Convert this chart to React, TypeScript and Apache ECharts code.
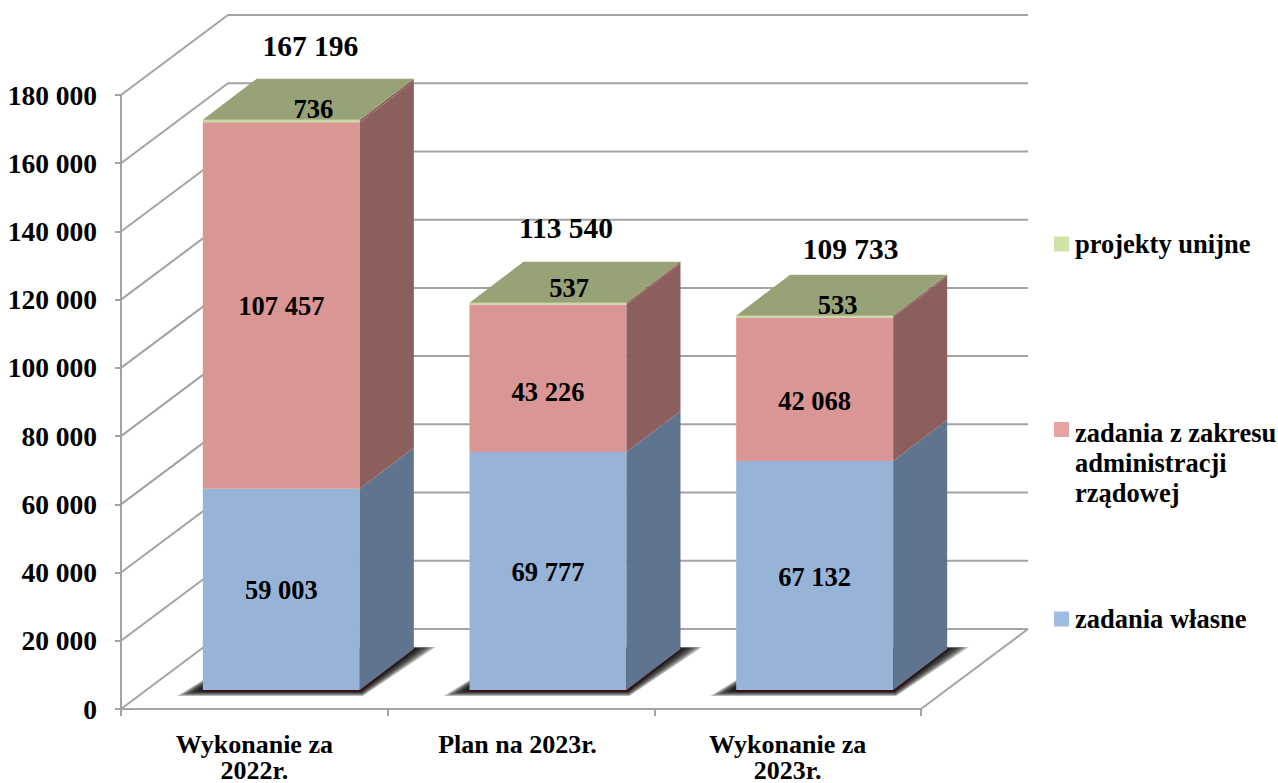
import React, { useEffect, useRef } from "react";
import * as echarts from "echarts";

const categories = ["Wykonanie za\n2022r.", "Plan na 2023r.", "Wykonanie za\n2023r."];
const zadaniaWlasne = [59003, 69777, 67132];
const zadaniaAdmin = [107457, 43226, 42068];
const projektyUnijne = [736, 537, 533];
const totals = [167196, 113540, 109733];
const axisTicks = [0, 20000, 40000, 60000, 80000, 100000, 120000, 140000, 160000, 180000];
const nameOwn = "zadania własne";
const nameAdmin = "zadania z zakresu administracji rządowej";
const nameEu = "projekty unijne";

// layout constants for the pseudo-3D projection
const WALL_DX = 107, WALL_DY = -80;
const BAR_W = 157, BAR_DX = 54, BAR_DY = -41, BASE_DX = 27, BASE_DY = -19;
const totalDx = [29, 18, 36];
const totalDy = [-74, -75, -67];
const euLabelDx = [32, 21, 23];
const euLabelDy = [-11, -15, -11];
const adminLabelDy = [1, 14, 12];
const FONT = "'Liberation Serif', 'Times New Roman', serif";
const fmt = (v: number) => String(v).replace(/\B(?=(\d{3})+$)/g, " ");

const poly = (points: number[][], fill: string, extra: any = {}) => ({
  type: "polygon",
  shape: { points },
  style: { fill, ...extra },
  silent: true,
});
const seg = (x1: number, y1: number, x2: number, y2: number, width = 2) => ({
  type: "line",
  shape: { x1, y1, x2, y2 },
  style: { stroke: "#a3a3a3", lineWidth: width },
  silent: true,
});
const label = (text: string, x: number, y: number, size: number) => ({
  type: "text",
  style: {
    text, x, y, align: "center", verticalAlign: "middle",
    fontFamily: FONT, fontWeight: "bold", fontSize: size, fill: "#000",
  },
  silent: true,
});

function stackRender(front: string, side: string, top?: string, midDy?: number[]) {
  return (params: any, api: any) => {
    const i = api.value(0);
    const cx = api.coord([i, 0])[0];
    const xL = cx - BAR_W / 2 + BASE_DX;
    const xR = xL + BAR_W;
    const yB = api.coord([i, api.value(1)])[1] + BASE_DY;
    const yT = api.coord([i, api.value(2)])[1] + BASE_DY;
    const v = fmt(api.value(3));
    const children: any[] = [
      { type: "rect", shape: { x: xL, y: yT, width: BAR_W, height: yB - yT }, style: { fill: front }, silent: true },
      poly([[xR, yB], [xR + BAR_DX, yB + BAR_DY], [xR + BAR_DX, yT + BAR_DY], [xR, yT]], side),
    ];
    if (top) {
      children.push(poly([[xL, yT], [xR, yT], [xR + BAR_DX, yT + BAR_DY], [xL + BAR_DX, yT + BAR_DY]], top));
      children.push(label(v, cx + BASE_DX + euLabelDx[i], yT + euLabelDy[i], 26.5));
    } else {
      children.push(label(v, cx + BASE_DX, (yT + yB) / 2 + (midDy ? midDy[i] : 1), 26.5));
    }
    return { type: "group", children };
  };
}

function wallRender(params: any, api: any) {
  const cs = params.coordSys;
  const v = api.value(1);
  const y = api.coord([0, v])[1];
  const left = cs.x, right = cs.x + cs.width;
  const children: any[] = [
    seg(left, y, left + WALL_DX, y + WALL_DY, 2),
    seg(left + WALL_DX, y + WALL_DY, right + WALL_DX, y + WALL_DY, 2),
  ];
  if (v === 0) children.push(seg(right, y, right + WALL_DX, y + WALL_DY, 2));
  return { type: "group", children };
}

function shadowRender(params: any, api: any) {
  const i = api.value(0);
  const [cx, y0] = api.coord([i, 0]);
  const xL = cx - BAR_W / 2 + BASE_DX;
  const xR = xL + BAR_W;
  const yB = y0 + BASE_DY;
  const children: any[] = [];
  const inner = [[xL - 6, yB + 1], [xR + 1, yB + 1], [xR + BAR_DX + 4, yB + BAR_DY - 1], [xL + BAR_DX, yB + BAR_DY - 1]];
  const outer = [[xL - 26, yB + 6], [xR + 3, yB + 6], [xR + BAR_DX + 22, yB + BAR_DY - 2], [xL + BAR_DX, yB + BAR_DY - 2]];
  const layers = 8;
  for (let k = layers; k >= 0; k--) {
    const t = k / layers;
    const pts = inner.map((p, j) => [p[0] + (outer[j][0] - p[0]) * t, p[1] + (outer[j][1] - p[1]) * t]);
    children.push(poly(pts, "#000", { opacity: 0.2 }));
  }
  children.push(
    poly([[xL, yB - 2], [xR, yB - 2], [xR + BAR_DX, yB + BAR_DY - 2], [xR + BAR_DX + 1, yB + BAR_DY], [xR + 1, yB + 2], [xL, yB + 2]], "#3a0f12")
  );
  return { type: "group", children };
}

function totalRender(params: any, api: any) {
  const i = api.value(0);
  const [cx, y] = api.coord([i, api.value(1)]);
  return label(fmt(api.value(1)), cx + BASE_DX + totalDx[i], y + BASE_DY + totalDy[i], 29.5);
}

const legendText = {
  fontFamily: FONT, fontWeight: "bold" as const, fontSize: 26.5, color: "#000", lineHeight: 30,
  padding: [0, 0, 0, 1],
};

export default function App() {
  const ref = useRef<HTMLDivElement>(null);
  useEffect(() => {
    document.body.style.margin = "0";
    const chart = echarts.init(ref.current!, undefined, { renderer: "svg" });
    const rows = categories.map((_, i) => {
      const a = zadaniaWlasne[i], b = zadaniaAdmin[i], c = projektyUnijne[i];
      return { own: [i, 0, a, a], adm: [i, a, a + b, b], eu: [i, a + b, a + b + c, c] };
    });
    const common = { type: "custom", coordinateSystem: "cartesian2d", clip: false, encode: { x: 0, y: [1, 2] } };
    chart.setOption({
      animation: false,
      backgroundColor: "#fff",
      grid: { left: 121, right: 357, top: 95, bottom: 74, outerBoundsMode: "none" },
      xAxis: {
        type: "category",
        data: categories.map((c, i) => (i === 1 ? { value: c, textStyle: { padding: [0, 7, 0, 0] } } : c)),
        axisLine: { lineStyle: { color: "#a3a3a3", width: 2 } },
        axisTick: { show: true, length: 7, lineStyle: { color: "#a3a3a3", width: 2 } },
        axisLabel: {
          interval: 0, margin: 22, color: "#000", fontFamily: FONT, fontWeight: "bold",
          fontSize: 26, lineHeight: 26, verticalAlign: "top",
        },
        splitLine: { show: false },
      },
      yAxis: {
        type: "value", min: 0, max: 180000, interval: 20000,
        axisLine: { show: true, lineStyle: { color: "#a3a3a3", width: 2 } },
        axisTick: { show: true, length: 6, lineStyle: { color: "#a3a3a3", width: 2 } },
        axisLabel: {
          margin: 24, color: "#000", fontFamily: FONT, fontWeight: "bold", fontSize: 27.5,
          formatter: (v: number) => fmt(v),
        },
        splitLine: { show: false },
      },
      legend: [
        {
          left: 1054, top: 229, padding: 0, orient: "vertical", itemWidth: 15, itemHeight: 15, itemGap: 0,
          data: [nameEu], icon: "rect", textStyle: legendText, selectedMode: false,
        },
        {
          left: 1054, top: 418, padding: 0, orient: "vertical", itemWidth: 15, itemHeight: 90, itemGap: 0,
          data: [nameAdmin],
          icon: "path://M0 0L0 0M0 4L15 4L15 19L0 19ZM0 90L0 90",
          formatter: () => "zadania z zakresu\nadministracji\nrządowej",
          textStyle: legendText, selectedMode: false,
        },
        {
          left: 1054, top: 604, padding: 0, orient: "vertical", itemWidth: 15, itemHeight: 15, itemGap: 0,
          data: [nameOwn], icon: "rect", textStyle: legendText, selectedMode: false,
        },
      ],
      series: [
        { ...common, name: "siatka", data: axisTicks.map((t) => [0, t]), encode: { x: 0, y: 1 }, renderItem: wallRender, z: 1 },
        { ...common, name: "cien", data: categories.map((_, i) => [i, 0]), encode: { x: 0, y: 1 }, renderItem: shadowRender, z: 2 },
        { ...common, name: nameOwn, data: rows.map((r) => r.own), itemStyle: { color: "#9DBDE3" }, renderItem: stackRender("#97B3D8", "#5F758F"), z: 3 },
        { ...common, name: nameAdmin, data: rows.map((r) => r.adm), itemStyle: { color: "#E6A3A3" }, renderItem: stackRender("#DA9694", "#8C5E5C", undefined, adminLabelDy), z: 3 },
        { ...common, name: nameEu, data: rows.map((r) => r.eu), itemStyle: { color: "#D0E2A8" }, renderItem: stackRender("#C6DB9E", "#8C5E5C", "#97A277"), z: 3 },
        { ...common, name: "razem", data: totals.map((t, i) => [i, t]), encode: { x: 0, y: 1 }, renderItem: totalRender, z: 4 },
      ],
    });
    return () => chart.dispose();
  }, []);
  return <div ref={ref} style={{ position: "absolute", left: 0, top: 0, width: 1278, height: 783 }} />;
}
